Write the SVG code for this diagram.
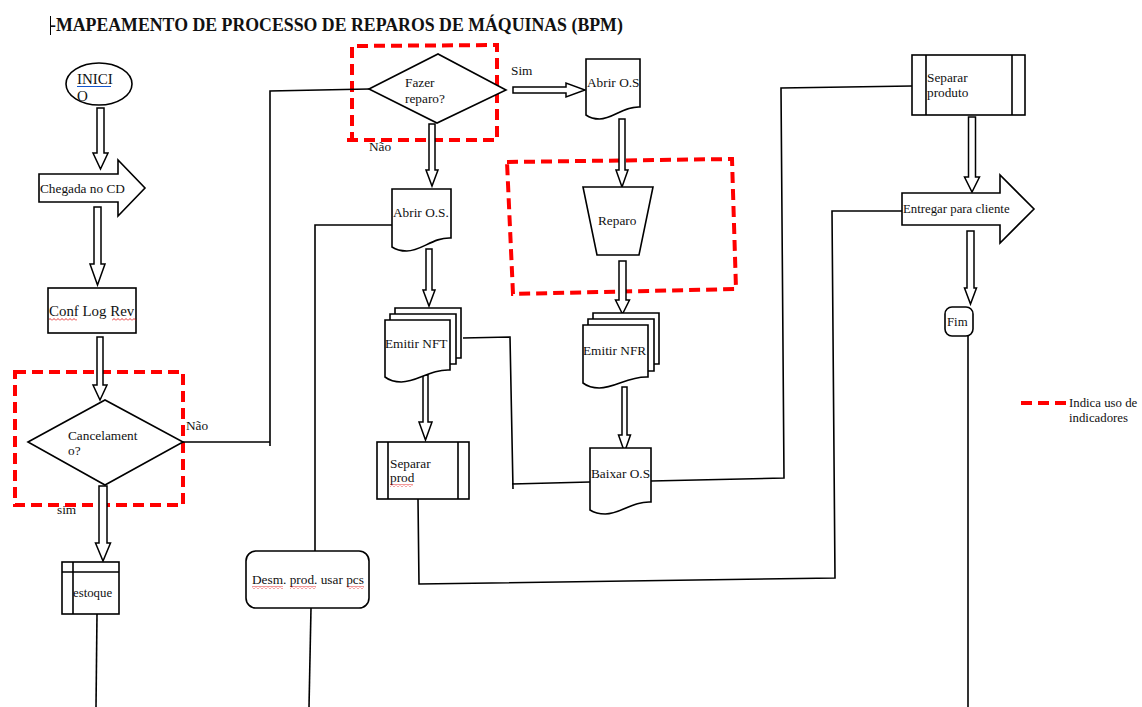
<svg xmlns="http://www.w3.org/2000/svg" width="1142" height="707" viewBox="0 0 1142 707">
<defs>
<style>
.s{fill:#fff;stroke:#000;stroke-width:1.6}
.l{fill:none;stroke:#000;stroke-width:1.6}
.a{fill:#fff;stroke:#000;stroke-width:1.5;stroke-linejoin:miter}
.rd{fill:none;stroke:#ff0000;stroke-width:4;stroke-dasharray:11 6}
.t{font-family:"Liberation Serif","Times New Roman",serif;font-size:13.3px;fill:#111}
.sm{font-size:12.8px}
.sq{fill:url(#sq)}
</style>
<pattern id="sq" width="4" height="3" patternUnits="userSpaceOnUse"><path d="M0,2.5 L2,0.5 L4,2.5" fill="none" stroke="#e00000" stroke-width="0.8"/></pattern>
</defs>
<rect width="1142" height="707" fill="#fff"/>
<g id="title">
<line x1="50.5" y1="16" x2="50.5" y2="35" stroke="#000" stroke-width="1"/>
<text x="50" y="31" style="font-family:'Liberation Serif',serif;font-size:17.8px;font-weight:bold;fill:#111">-MAPEAMENTO DE PROCESSO DE REPAROS DE MÁQUINAS (BPM)</text>
</g>
<g id="indicators">
<path class="rd" d="M15,372 H183 V505 H15 Z"/>
<path class="rd" d="M347,140 H497 V45 L352,46 V140"/>
<path class="rd" d="M507,162 L732,159 L736,289 L513,294 Z"/>
</g>
<g id="connectors">
<polygon class="a" points="97,108 104,108 104,153 108,153 100.5,169 93,153 97,153"/>
<polygon class="a" points="94,207 101,207 101,264 105,264 97.5,285 90,264 94,264"/>
<polygon class="a" points="97,337 103,337 103,385 107,385 100,400 93,385 97,385"/>
<polygon class="a" points="99,486 107,486 107,543 110.5,543 103,561 95.5,543 99,543"/>
<polygon class="a" points="429,124 435,124 435,170 438,170 432,186 426,170 429,170"/>
<polygon class="a" points="513,87 566,87 566,83 585,90 566,97 566,93 513,93"/>
<polygon class="a" points="619,119 625,119 625,170 628,170 622,187 616,170 619,170"/>
<polygon class="a" points="619,261 626,261 626,300 629.5,300 622.5,314 615.5,300 619,300"/>
<polygon class="a" points="426,249 432,249 432,290 435,290 429,306 423,290 426,290"/>
<polygon class="a" points="423,375 428,375 428,422 432,422 425.5,440 419,422 423,422"/>
<polygon class="a" points="622,387 627,387 627,435 630.5,435 624.5,452 618.5,435 622,435"/>
<polygon class="a" points="968.5,117 975.5,117 975.5,177 979.5,177 972,192 964.5,177 968.5,177"/>
<polygon class="a" points="967,231 974,231 974,288 976.5,288 970.5,304 964.5,288 967,288"/>
<path class="l" d="M183,442 H270 M270,446 V91 L369,89"/>
<path class="l" d="M392,225 H315 V551"/>
<path class="l" d="M311,608 L309,707"/>
<path class="l" d="M97,614 L96,707"/>
<path class="l" d="M463,338 L510,337 L513,489 M512,484 L590,482"/>
<path class="l" d="M651,481 L784,478 L781,88 L912,86"/>
<path class="l" d="M902,211 H832 L835,578 L419,584 L418,499"/>
<path class="l" d="M968,336 V707"/>
<text class="t" x="186" y="430">Não</text>
<text class="t" x="57" y="514">sim</text>
<text class="t" x="369" y="151">Não</text>
<text class="t" x="511" y="75">Sim</text>
</g>
<g id="inicio">
<ellipse class="s" cx="99" cy="84" rx="33" ry="21"/>
<text class="t" x="77" y="84" style="font-size:15px">INICI</text>
<line x1="77" y1="86.5" x2="111" y2="86.5" stroke="#1155cc" stroke-width="1.2"/>
<text class="t" x="77" y="101" style="font-size:15px">O</text>
</g>
<g id="chegada">
<polygon class="s" points="39,174 118,174 118,160 145,188 118,216 118,202 39,202"/>
<text class="t" x="40" y="193">Chegada no CD</text>
</g>
<g id="conf">
<rect class="s" x="48" y="288" width="88" height="45"/>
<text class="t" x="49" y="316" style="font-size:14.9px">Conf Log Rev</text>
<rect class="sq" x="49" y="318" width="28" height="3"/>
<rect class="sq" x="112" y="318" width="24" height="3"/>
</g>
<g id="cancelamento">
<polygon class="s" points="28,442 105,400 183,442 105,485"/>
<text class="t" x="68" y="440">Cancelament</text>
<text class="t" x="68" y="455">o?</text>
</g>
<g id="estoque">
<rect class="s" x="62" y="562" width="57" height="52"/>
<path class="l" d="M73,562 V614 M62,572 H119"/>
<text class="t sm" x="73" y="597">estoque</text>
</g>
<g id="fazer">
<polygon class="s" points="369,89 438,54 506,90 437,123"/>
<text class="t" x="405" y="87">Fazer</text>
<text class="t" x="405" y="103">reparo?</text>
</g>
<g id="abrir1">
<path class="s" d="M392,189 H451 V238 C433.3,237 421.5,251 406.75,251 Q397.9,251 392,247 Z"/>
<text class="t" x="393" y="217">Abrir O.S.</text>
</g>
<g id="abrir2">
<path class="s" d="M586,59 H640 V107 C623.8,106 613,119 599.5,119 Q591.4,119 586,115 Z"/>
<text class="t" x="587" y="87">Abrir O.S</text>
</g>
<g id="reparo">
<polygon class="s" points="583,187 653,187 639,255 597,255"/>
<text class="t" x="598" y="225">Reparo</text>
</g>
<g id="nft">
<path class="s" d="M395,314 V308 H461 V358 H456"/>
<path class="s" d="M390,320 V314 H456 V364 H450"/>
<path class="s" d="M385,320 H450 V370 C430.5,369 417.5,382 401.25,382 Q391.5,382 385,377 Z"/>
<text class="t" x="385" y="348">Emitir NFT</text>
</g>
<g id="nfr">
<path class="s" d="M593,319 V313 H659 V364 H654"/>
<path class="s" d="M588,325 V319 H654 V371 H648"/>
<path class="s" d="M583,325 H648 V377 C628.5,376 615.5,388 599.25,388 Q589.5,388 583,383 Z"/>
<text class="t" x="583" y="355">Emitir NFR</text>
</g>
<g id="separar-prod">
<rect class="s" x="377" y="442" width="92" height="57"/>
<path class="l" d="M388,442 V499 M458,442 V499"/>
<text class="t" x="390" y="468">Separar</text>
<text class="t" x="390" y="482">prod</text>
<rect class="sq" x="390" y="484" width="23" height="3"/>
</g>
<g id="baixar">
<path class="s" d="M590,448 H651 V502 C632.7,501 620.5,514 605.25,514 Q596.1,514 590,510 Z"/>
<text class="t" x="591" y="478">Baixar O.S</text>
</g>
<g id="desm">
<rect class="s" x="246" y="551" width="123" height="57" rx="10"/>
<text class="t" x="252" y="584">Desm. prod. usar pcs</text>
<rect class="sq" x="252" y="586" width="31" height="3"/>
<rect class="sq" x="290" y="586" width="26" height="3"/>
<rect class="sq" x="347" y="586" width="17" height="3"/>
</g>
<g id="separar-produto">
<rect class="s" x="912" y="55" width="113" height="60"/>
<path class="l" d="M926,55 V115 M1012,55 V115"/>
<text class="t" x="927" y="82">Separar</text>
<text class="t" x="927" y="97">produto</text>
</g>
<g id="entregar">
<polygon class="s" points="902,193 1000,193 1000,175 1034,209 1000,243 1000,225 902,225"/>
<text class="t sm" x="903" y="213">Entregar para cliente</text>
</g>
<g id="fim">
<rect class="s" x="945" y="307" width="28" height="29" rx="7"/>
<text class="t sm" x="947" y="326">Fim</text>
</g>
<g id="legend">
<line class="rd" x1="1021" y1="403" x2="1066" y2="403"/>
<text class="t sm" x="1069" y="407">Indica uso de</text>
<text class="t sm" x="1069" y="422">indicadores</text>
</g>
</svg>
